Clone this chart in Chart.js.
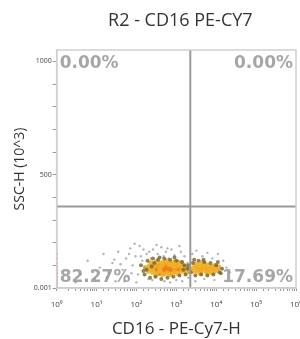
<!DOCTYPE html>
<html lang="en">
<head>
    <meta charset="UTF-8">
    <title>R2 - CD16 PE-CY7</title>
    <script src="https://cdn.jsdelivr.net/npm/chart.js"></script>
    <style>
        html, body { margin: 0; padding: 0; background: #fff; }
        #wrap { width: 300px; height: 339px; }
    </style>
</head>
<body>
    <div id="wrap"><canvas id="dotPlot" width="300" height="339"></canvas></div>
    <script>
        const plotTitle = 'R2 - CD16 PE-CY7';
        // gate positions (x on CD16 log scale, y on SSC-H)
        const gateX = 2240;
        const gateY = 360;
        const quadLabels = ['0.00%', '0.00%', '82.27%', '17.69%'];
        const yTicks = [0, 100, 200, 300, 400, 500, 600, 700, 800, 900, 1000];
        const supers = ['\u2070', '\u00b9', '\u00b2', '\u00b3', '\u2074', '\u2075', '\u2076'];

        // events, grouped by density colour
        const axisX = [1, 1, 1, 1, 1, 1, 1, 1, 1, 1];
        const axisY = [5, 20, 35, 50, 65, 80, 95, 110, 130, 150];

        const grayX = [4, 6, 9, 12, 15, 20, 25, 30, 35, 45, 55, 60, 70, 80, 95, 110, 120, 140, 160, 180, 200, 230, 260, 300, 340, 380, 420, 480, 550, 650, 750, 900, 1100, 1300, 1600, 1900, 2500, 3200, 4500, 6000, 8000, 11000, 15000, 18000, 3, 8, 18, 28, 50, 75, 100, 150, 250, 500, 700, 1000, 1400, 2000, 3000, 5000, 9000, 40, 65, 90, 130, 210, 320, 600, 1200, 22000];
        const grayY = [60, 120, 40, 90, 150, 70, 110, 30, 160, 80, 130, 50, 175, 100, 140, 60, 185, 120, 90, 150, 40, 130, 170, 110, 150, 60, 180, 140, 160, 130, 170, 145, 120, 160, 140, 110, 150, 165, 140, 155, 130, 150, 120, 90, 25, 70, 45, 125, 30, 65, 25, 170, 35, 30, 25, 35, 30, 45, 30, 40, 35, 105, 150, 195, 140, 160, 190, 175, 185, 70];

        const oliveX = [130, 160, 190, 220, 260, 300, 350, 420, 500, 600, 700, 850, 1000, 1200, 1400, 1700, 2000, 2300, 2600, 3000, 3600, 4200, 5000, 6000, 7200, 8500, 10000, 12000, 14000, 180, 240, 1500, 1900, 13000, 150, 280, 380, 900, 1600, 2800, 4800, 11000];
        const oliveY = [100, 60, 120, 45, 130, 50, 125, 40, 130, 45, 125, 50, 120, 55, 115, 60, 100, 70, 110, 55, 120, 60, 115, 55, 110, 60, 100, 70, 85, 80, 95, 80, 85, 65, 75, 110, 135, 135, 100, 125, 125, 115];

        const yellowX = [170, 200, 230, 260, 290, 320, 350, 380, 420, 460, 520, 580, 650, 720, 800, 900, 1000, 1100, 1250, 1400, 1600, 1800, 2100, 2800, 3200, 3700, 4200, 4800, 5500, 6300, 7000, 8000, 9000, 10500, 3000, 4000, 6000, 9500, 5200, 7600, 1300, 950, 600, 400, 250, 210, 310, 440, 700, 850, 1150, 1500, 2600, 3400, 4400, 6600, 8600, 11500];
        const yellowY = [90, 75, 110, 70, 100, 115, 65, 90, 110, 60, 115, 65, 105, 60, 110, 70, 95, 65, 100, 75, 95, 70, 85, 90, 75, 100, 80, 95, 75, 100, 80, 95, 75, 85, 105, 65, 68, 100, 105, 70, 110, 115, 118, 72, 85, 95, 58, 100, 105, 95, 110, 85, 75, 95, 110, 90, 85, 92];

        const orangeX = [280, 330, 380, 430, 480, 540, 600, 660, 740, 820, 950, 1100, 1250, 3500, 4500, 5500, 6800, 7800, 360, 700, 520, 300, 410, 780, 880, 1000, 4000, 5000, 6200];
        const orangeY = [85, 78, 100, 85, 95, 80, 95, 78, 92, 82, 88, 80, 85, 85, 88, 90, 88, 85, 70, 68, 102, 95, 68, 102, 75, 92, 80, 95, 82];

        const redX = [420, 480, 540, 600, 650, 560, 460, 720, 380, 680, 510];
        const redY = [80, 88, 75, 85, 90, 92, 72, 80, 85, 78, 82];

        function pts(xs, ys) {
            return xs.map((x, i) => ({ x: x, y: ys[i] }));
        }

        function dots(label, xs, ys, color, r) {
            return {
                type: 'scatter',
                label: label,
                data: pts(xs, ys),
                backgroundColor: color,
                borderWidth: 0,
                pointRadius: r,
                order: 2
            };
        }

        // plot frame, title over the plot area, quadrant percentages
        const quadText = {
            id: 'quadText',
            afterDatasetsDraw(chart) {
                const a = chart.chartArea;
                const c = chart.ctx;
                c.save();
                c.strokeStyle = '#cfcfcf';
                c.lineWidth = 1.5;
                c.strokeRect(a.left, a.top, a.right - a.left, a.bottom - a.top);

                c.fillStyle = '#333';
                c.font = '18px "Open Sans", sans-serif';
                c.textAlign = 'center';
                c.textBaseline = 'middle';
                c.fillText(plotTitle, (a.left + a.right) / 2 + 4, 21);

                c.fillStyle = 'rgba(150,150,150,0.85)';
                c.font = 'bold 17px "DejaVu Sans", sans-serif';
                c.textAlign = 'left';
                c.fillText(quadLabels[0], a.left + 3, a.top + 14);
                c.fillText(quadLabels[2], a.left + 3, a.bottom - 10);
                c.textAlign = 'right';
                c.fillText(quadLabels[1], a.right - 3, a.top + 14);
                c.fillText(quadLabels[3], a.right - 3, a.bottom - 10);
                c.restore();
            }
        };

        const ctx = document.getElementById('dotPlot').getContext('2d');
        new Chart(ctx, {
            data: {
                datasets: [
                    dots('axis', axisX, axisY, 'rgba(230,90,110,0.8)', 1.2),
                    dots('gray', grayX, grayY, 'rgba(120,120,120,0.55)', 1.2),
                    dots('olive', oliveX, oliveY, 'rgba(120,100,40,0.8)', 2),
                    dots('yellow', yellowX, yellowY, 'rgba(240,175,40,0.9)', 2.7),
                    dots('orange', orangeX, orangeY, 'rgba(240,130,20,0.95)', 2.7),
                    dots('red', redX, redY, 'rgba(235,70,20,0.95)', 2.7),
                    {
                        type: 'line',
                        label: 'gateV',
                        data: [{ x: gateX, y: 0 }, { x: gateX, y: 1050 }],
                        borderColor: '#9a9a9a',
                        borderWidth: 2,
                        pointRadius: 0,
                        order: 1
                    },
                    {
                        type: 'line',
                        label: 'gateH',
                        data: [{ x: 1, y: gateY }, { x: 1000000, y: gateY }],
                        borderColor: '#9a9a9a',
                        borderWidth: 2,
                        pointRadius: 0,
                        order: 1
                    }
                ]
            },
            options: {
                responsive: false,
                animation: false,
                layout: { padding: { right: 3, left: 8, top: 50 } },
                plugins: {
                    legend: { display: false },
                    tooltip: { enabled: false },
                    title: { display: false }
                },
                scales: {
                    x: {
                        type: 'logarithmic',
                        min: 1,
                        max: 1000000,
                        afterFit: function (scale) {
                            scale.paddingRight = 0;
                        },
                        border: { color: '#c8c8c8', width: 1.5 },
                        grid: { drawOnChartArea: false, tickLength: 3, color: '#999' },
                        ticks: {
                            autoSkip: false,
                            maxRotation: 0,
                            padding: 9,
                            color: '#444',
                            font: { family: 'Open Sans', size: 8 },
                            callback: function (value) {
                                const p = Math.log10(value);
                                return Math.abs(p - Math.round(p)) < 1e-9 ? '10' + supers[Math.round(p)] : '';
                            }
                        },
                        title: {
                            display: true,
                            text: 'CD16 - PE-Cy7-H',
                            color: '#333',
                            font: { family: 'Open Sans', size: 17 },
                            padding: { top: 0, bottom: 0 }
                        }
                    },
                    y: {
                        min: 0,
                        max: 1050,
                        afterBuildTicks: function (scale) {
                            scale.ticks = yTicks.map(v => ({ value: v }));
                        },
                        border: { color: '#c8c8c8', width: 1.5 },
                        grid: { drawOnChartArea: false, tickLength: 4, color: '#999' },
                        ticks: {
                            padding: 1,
                            color: '#444',
                            font: { family: 'Open Sans', size: 7 },
                            callback: function (value) {
                                if (value === 0) return '0.001';
                                if (value === 500 || value === 1000) return String(value);
                                return '';
                            }
                        },
                        title: {
                            display: true,
                            text: 'SSC-H (10^3)',
                            color: '#333',
                            font: { family: 'Open Sans', size: 14 },
                            padding: { top: 4, bottom: 4 }
                        }
                    }
                }
            },
            plugins: [quadText]
        });
    </script>
</body>
</html>
